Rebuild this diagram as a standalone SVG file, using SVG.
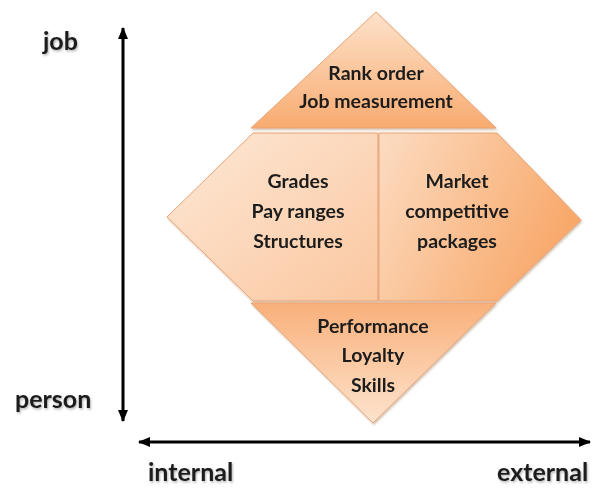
<svg xmlns="http://www.w3.org/2000/svg" width="597" height="488" viewBox="0 0 597 488">
<defs>
<linearGradient id="gTop" x1="0" y1="0" x2="0" y2="1">
<stop offset="0" stop-color="#fde2cb"/>
<stop offset="1" stop-color="#f8ab70"/>
</linearGradient>
<linearGradient id="gLeft" x1="0" y1="0" x2="1" y2="1">
<stop offset="0" stop-color="#fde8d6"/>
<stop offset="1" stop-color="#fbc7a0"/>
</linearGradient>
<linearGradient id="gRight" x1="0" y1="0" x2="1" y2="0.4">
<stop offset="0" stop-color="#fcdcc2"/>
<stop offset="1" stop-color="#f8a96b"/>
</linearGradient>
<linearGradient id="gBot" x1="0" y1="0" x2="0" y2="1">
<stop offset="0" stop-color="#f9b07a"/>
<stop offset="1" stop-color="#fde3cd"/>
</linearGradient>
<filter id="sh" x="-10%" y="-10%" width="120%" height="120%">
<feDropShadow dx="1" dy="1.5" stdDeviation="1.2" flood-color="#7a4a20" flood-opacity="0.35"/>
</filter>
<filter id="tsh" x="-10%" y="-20%" width="120%" height="150%">
<feDropShadow dx="1" dy="1.5" stdDeviation="0.8" flood-color="#000" flood-opacity="0.3"/>
</filter>
<marker id="ah" viewBox="0 0 12 10" refX="11" refY="5" markerWidth="12" markerHeight="10" markerUnits="userSpaceOnUse" orient="auto-start-reverse">
<path d="M0,0 L12,5 L0,10 Z" fill="#000"/>
</marker>
</defs>
<style>
.piece{stroke:#eba374;stroke-width:1;stroke-linejoin:round}
.t{font-family:Lato,"Open Sans","Liberation Sans",sans-serif;font-weight:bold;font-size:19.5px;fill:#1c1c1c;text-anchor:middle}
.ax{font-family:Lato,"Open Sans","Liberation Sans",sans-serif;font-weight:bold;font-size:25px;fill:#1c1c1c}
.axis{stroke:#000;stroke-width:3;fill:none}
</style>
<rect width="597" height="488" fill="#fff"/>
<g id="connectors">
<line class="axis" x1="123" y1="28" x2="123" y2="421" marker-start="url(#ah)" marker-end="url(#ah)"/>
<line class="axis" x1="139" y1="442" x2="590" y2="442" marker-start="url(#ah)" marker-end="url(#ah)"/>
</g>
<g id="node-top" filter="url(#sh)">
<polygon class="piece" fill="url(#gTop)" points="376,12 496,128 251,128"/>
<text class="t" x="376" y="80">Rank order</text>
<text class="t" x="376" y="108">Job measurement</text>
</g>
<g id="node-left" filter="url(#sh)">
<polygon class="piece" fill="url(#gLeft)" points="253,133 378,133 378,301 253,301 167,217"/>
<text class="t" x="298" y="188">Grades</text>
<text class="t" x="298" y="218">Pay ranges</text>
<text class="t" x="298" y="248">Structures</text>
</g>
<g id="node-right" filter="url(#sh)">
<polygon class="piece" fill="url(#gRight)" points="379,133 497,133 581,220 497,301 379,301"/>
<text class="t" x="457" y="188">Market</text>
<text class="t" x="457" y="218">competitive</text>
<text class="t" x="457" y="248">packages</text>
</g>
<g id="node-bottom" filter="url(#sh)">
<polygon class="piece" fill="url(#gBot)" points="251,303 496,303 373,423"/>
<text class="t" x="373" y="333">Performance</text>
<text class="t" x="373" y="362">Loyalty</text>
<text class="t" x="373" y="392">Skills</text>
</g>
<g id="labels" filter="url(#tsh)">
<text class="ax" x="43" y="50">job</text>
<text class="ax" x="15" y="408">person</text>
<text class="ax" x="148" y="481">internal</text>
<text class="ax" x="497" y="481">external</text>
</g>
</svg>
